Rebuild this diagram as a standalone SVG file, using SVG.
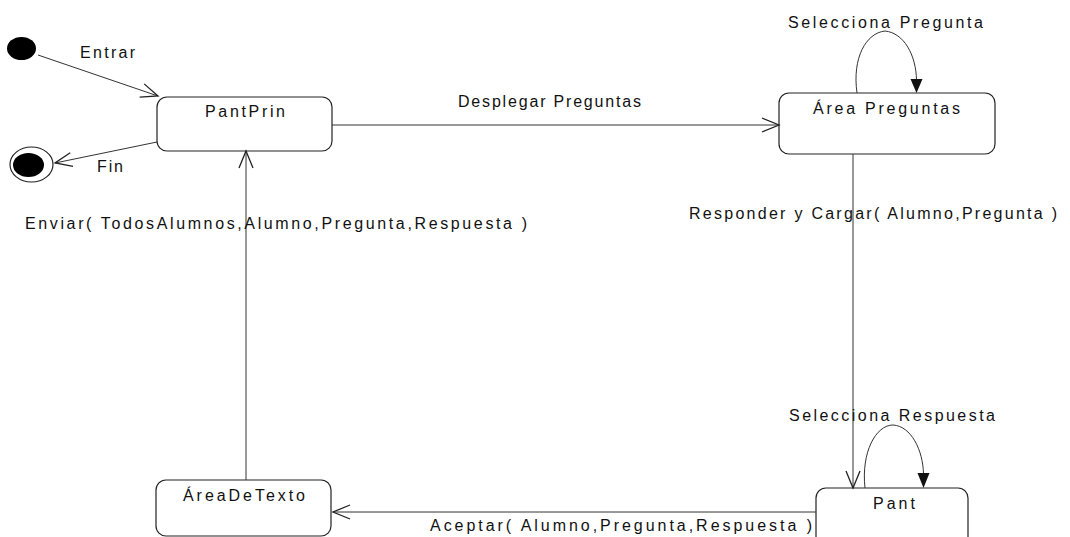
<svg xmlns="http://www.w3.org/2000/svg" width="1070" height="537" viewBox="0 0 1070 537">
  <defs>
    <style>
      .state { fill: #ffffff; stroke: #222; stroke-width: 1.2; }
      .edge { fill: none; stroke: #333; stroke-width: 1; }
      .lbl { font-family: "Liberation Sans", Arial, sans-serif; font-size: 16px; fill: #111; }
      .st { font-family: "Liberation Sans", Arial, sans-serif; font-size: 16px; fill: #111; text-anchor: start; }
      .head { fill: #111; stroke: none; }
    </style>
    <marker id="open" markerUnits="userSpaceOnUse" markerWidth="20" markerHeight="16" refX="18" refY="7.5" orient="auto" overflow="visible">
      <path d="M1,0.5 L18,7.5 L1,14.5" fill="none" stroke="#222" stroke-width="1.3"/>
    </marker>
  </defs>

  <rect width="1070" height="537" fill="#ffffff"/>

  <!-- pseudo states -->
  <g id="initial">
    <ellipse cx="21.5" cy="48.5" rx="14.5" ry="11.5" fill="#000"/>
  </g>
  <g id="final">
    <ellipse cx="31.5" cy="164.5" rx="21.5" ry="17.5" fill="#fff" stroke="#222" stroke-width="1.2"/>
    <ellipse cx="28.5" cy="165" rx="15.5" ry="12" fill="#000"/>
  </g>

  <!-- states -->
  <g id="PantPrin">
    <rect class="state" x="157" y="97" width="175" height="54" rx="10" ry="10"/>
    <text class="st" x="205" y="117" textLength="80" lengthAdjust="spacing">PantPrin</text>
  </g>
  <g id="AreaPreguntas">
    <rect class="state" x="779" y="93" width="216" height="61" rx="10" ry="10"/>
    <text class="st" x="813" y="114" textLength="147" lengthAdjust="spacing">Área Preguntas</text>
  </g>
  <g id="Pant">
    <rect class="state" x="816" y="488" width="152" height="80" rx="10" ry="10"/>
    <text class="st" x="873" y="509" textLength="42" lengthAdjust="spacing">Pant</text>
  </g>
  <g id="AreaDeTexto">
    <rect class="state" x="156" y="480" width="175" height="56" rx="10" ry="10"/>
    <text class="st" x="183" y="501" textLength="122" lengthAdjust="spacing">ÁreaDeTexto</text>
  </g>

  <!-- transitions -->
  <g id="connectors">
    <line class="edge" x1="38" y1="55" x2="158" y2="96" marker-end="url(#open)"/>
    <line class="edge" x1="157" y1="142" x2="55" y2="163" marker-end="url(#open)"/>
    <line class="edge" x1="332" y1="125" x2="779" y2="125" marker-end="url(#open)"/>
    <line class="edge" x1="853" y1="154" x2="853" y2="488" marker-end="url(#open)"/>
    <line class="edge" x1="816" y1="512" x2="333" y2="512" marker-end="url(#open)"/>
    <line class="edge" x1="246" y1="480" x2="246" y2="151" marker-end="url(#open)"/>

    <!-- self transition on Área Preguntas -->
    <path class="edge" d="M857,93 C852,58 866,33 885,31 C904,33 916,55 916.5,80"/>
    <polygon class="head" points="910.5,79 922.5,79 916.5,93"/>

    <!-- self transition on Pant -->
    <path class="edge" d="M865,488 C861,452 876,425 893,425 C911,426 923,450 923.5,474"/>
    <polygon class="head" points="917.5,473 929.5,473 923.5,488"/>
  </g>

  <!-- transition labels -->
  <g id="labels">
    <text class="lbl" x="80" y="58" textLength="55" lengthAdjust="spacing">Entrar</text>
    <text class="lbl" x="97" y="172" textLength="26" lengthAdjust="spacing">Fin</text>
    <text class="lbl" x="458" y="107" textLength="183" lengthAdjust="spacing">Desplegar Preguntas</text>
    <text class="lbl" x="788" y="28" textLength="195" lengthAdjust="spacing">Selecciona Pregunta</text>
    <text class="lbl" x="689" y="219" textLength="368" lengthAdjust="spacing">Responder y Cargar( Alumno,Pregunta )</text>
    <text class="lbl" x="789" y="421" textLength="206" lengthAdjust="spacing">Selecciona Respuesta</text>
    <text class="lbl" x="430" y="531" textLength="382" lengthAdjust="spacing">Aceptar( Alumno,Pregunta,Respuesta )</text>
    <text class="lbl" x="25" y="229" textLength="502" lengthAdjust="spacing">Enviar( TodosAlumnos,Alumno,Pregunta,Respuesta )</text>
  </g>
</svg>
